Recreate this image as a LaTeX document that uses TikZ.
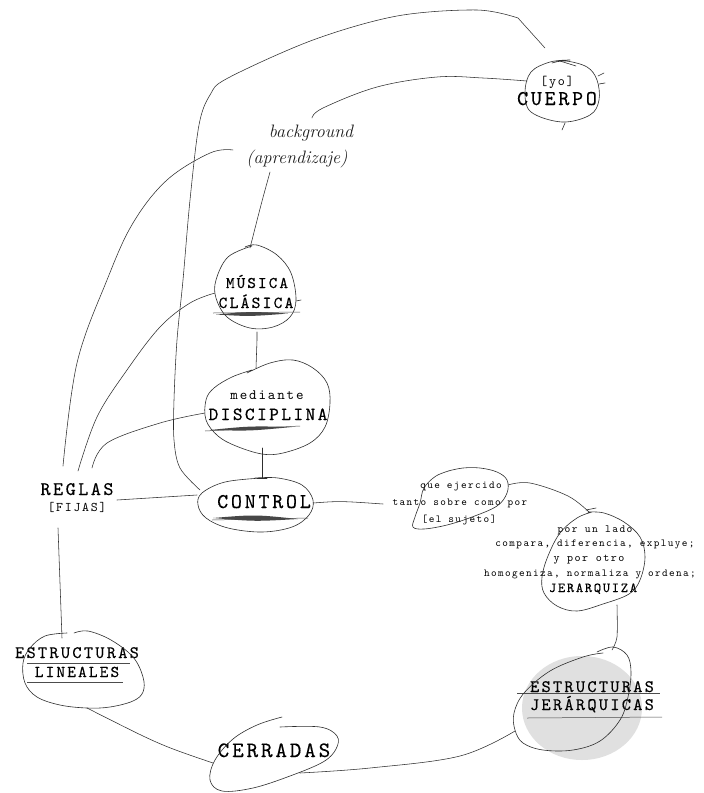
\documentclass[tikz,border=0pt]{standalone}
\usepackage{fontspec}
\newfontfamily\twfam{lmmono10-regular}[Extension=.otf, LetterSpace=13, FakeBold=0.3]
\newfontfamily\twlight{lmmono10-regular}[Extension=.otf, LetterSpace=13]
\newcommand\twf[1]{\twfam\fontsize{#1}{#1}\selectfont}
\newcommand\twl[1]{\twlight\fontsize{#1}{#1}\selectfont}
\begin{document}
\begin{tikzpicture}[x=1pt,y=-1pt,
  lbl/.style={anchor=base, inner sep=0pt, text=black},
  hand/.style={anchor=base, inner sep=0pt, text=black!88, font=\itshape\fontsize{18}{18}\selectfont},
  blob/.style={draw=black!82, line width=0.6pt, line cap=round, line join=round},
  link/.style={draw=black!82, line width=0.55pt, line cap=round, line join=round},
  rulel/.style={draw=black!70, line width=0.5pt},
  smudge/.style={fill=black!72, draw=none}]
\useasboundingbox (0,0) rectangle (704,793);
\fill[white] (0,0) rectangle (704,793);

% ---------- shaded disc behind the last concept ----------
\fill[black!12] (582,708) ellipse [x radius=60, y radius=52];

% ---------- labels ----------
\node[lbl, font=\twl{13.4}] (yo) at (557,85) {[yo]};
\node[lbl, font=\twf{21}] (cuerpo) at (557,105) {CUERPO};
\node[hand] (bg) at (311,137) {background};
\node[hand] (aprend) at (297,163) {(aprendizaje)};
\node[lbl, font=\twf{16.3}] (musica) at (257,288) {MÚSICA};
\node[lbl, font=\twf{16.8}] (clasica) at (256,308) {CLÁSICA};
\node[lbl, font=\twl{14.3}] (mediante) at (267,399) {mediante};
\node[lbl, font=\twf{18.5}] (disciplina) at (268,420) {DISCIPLINA};
\node[lbl, font=\twf{21}] (control) at (264,508) {CONTROL};
\node[lbl, font=\twf{19.2}] (reglas) at (77,495) {REGLAS};
\node[lbl, font=\twl{13.2}] (fijas) at (77,511) {[FIJAS]};
\node[lbl, font=\twf{17.5}] (estrlin) at (77,658) {ESTRUCTURAS};
\node[lbl, font=\twf{16.5}] (lineales) at (77,677) {LINEALES};
\node[lbl, font=\twf{17.5}] (estrjer) at (592,692) {ESTRUCTURAS};
\node[lbl, font=\twf{17.5}] (jerarq) at (592,710) {JERÁRQUICAS};
\node[lbl, font=\twf{22}] (cerradas) at (274,757) {CERRADAS};
\node[lbl, font=\twl{10.7}] (que1) at (461,488) {que ejercido};
\node[lbl, font=\twl{10.7}] (que2) at (460,505) {tanto sobre como por};
\node[lbl, font=\twl{10.7}] (que3) at (459,522) {[el sujeto]};
\node[lbl, font=\twl{11}] (jz1) at (595,532) {por un lado};
\node[lbl, font=\twl{10.7}] (jz2) at (595,546) {compara, diferencia, expluye;};
\node[lbl, font=\twl{11.5}] (jz3) at (589,561) {y por otro};
\node[lbl, font=\twl{10.7}] (jz4) at (590,576) {homogeniza, normaliza y ordena;};
\node[lbl, font=\twf{13.7}] (jz5) at (593,592) {JERARQUIZA};

% ---------- underlines ----------
\draw[rulel] (213,313) -- (300,312);
\fill[smudge] (216,314.5) .. controls (250,311.5) .. (288,313.5) .. controls (250,316.5) .. (216,314.5);
\draw[rulel] (205,431) -- (300,426);
\fill[smudge] (210,430) .. controls (250,426) .. (292,427) .. controls (250,431) .. (210,430);
\draw[rulel] (212,520) -- (308,518);
\fill[smudge] (213,518) .. controls (255,514.5) .. (298,519) .. controls (255,521.5) .. (213,518);
\draw[rulel] (27,663) -- (130,663);
\draw[rulel] (27,682) -- (123,682);
\draw[rulel] (517,693) -- (660,693);
\draw[rulel] (527,718) -- (662,717);

% ---------- hand-drawn rings ----------
% CUERPO
\draw[blob] plot[smooth, tension=0.6] coordinates {(570,60) (550,62) (531,72) (525,92) (531,112) (562,122) (590,115) (599,100) (597,80) (587,67) (566,61) (552,63)};
\draw[blob] (560,61) -- (576,66);
\draw[blob] (598,76) -- (604,73);
\draw[blob] (599,84) -- (605,83);
\draw[blob] (565,123) -- (562,130);
% MUSICA CLASICA
\draw[blob] plot[smooth, tension=0.6] coordinates {(252,246) (228,257) (216,280) (216,298) (227,317) (250,328) (273,327) (290,317) (296,300) (291,273) (277,255) (257,245) (245,247)};
\draw[blob] (296,301) -- (301,300);
% mediante DISCIPLINA
\draw[blob] plot[smooth, tension=0.6] coordinates {(247,373) (270,363) (293,360) (313,368) (327,383) (330,403) (325,427) (310,443) (283,453) (262,454) (236,446) (218,436) (206,420) (206,400) (214,388) (232,377) (252,370)};
% CONTROL
\draw[blob] plot[smooth, tension=0.6] coordinates {(262,478) (225,482) (202,493) (198,505) (206,518) (228,528) (262,532) (292,527) (309,515) (313,500) (302,485) (278,478) (255,478)};
% ESTRUCTURAS LINEALES
\draw[blob] plot[smooth, tension=0.6] coordinates {(74,633) (88,631) (111,640) (133,657) (143,677) (143,692) (133,701) (110,707) (87,708) (60,705) (37,697) (25,683) (23,663) (30,648) (45,636) (67,633)};
% ESTRUCTURAS JERARQUICAS
\draw[blob] plot[smooth, tension=0.6] coordinates {(597,652) (613,647) (627,655) (631,672) (628,697) (620,720) (600,741) (573,750) (543,750) (523,743) (515,730) (514,713) (524,693) (550,671) (583,657) (603,653)};
% CERRADAS
\draw[blob] plot[smooth, tension=0.6] coordinates {(282,717) (257,725) (233,739) (215,760) (210,780) (222,791) (253,788) (290,776) (323,762) (336,749) (337,736) (320,727) (280,727)};
% que ejercido ...
\draw[blob] plot[smooth, tension=0.6] coordinates {(452,470) (436,476) (424,488) (420,503) (415,517) (413,527) (424,529) (447,525) (472,517) (497,506) (507,493) (507,480) (497,472) (480,468) (463,468) (448,471)};
% por un lado ... JERARQUIZA
\draw[blob] plot[smooth, tension=0.6] coordinates {(592,512) (577,518) (560,533) (548,556) (542,577) (544,593) (557,606) (577,611) (603,604) (629,594) (640,580) (645,557) (640,537) (624,522) (604,513) (588,512)};
\draw[blob] (586,510) -- (596,508);

% ---------- anchor points on the rings ----------
\coordinate (cuerpo-top) at (545,48);
\coordinate (cuerpo-w) at (527,81);
\coordinate (bg-e) at (312,118);
\coordinate (bg-w) at (233,150);
\coordinate (bg-s) at (270,172);
\coordinate (mus-n) at (250,248);
\coordinate (mus-w) at (215,293);
\coordinate (mus-s) at (257,332);
\coordinate (dis-n) at (256,368);
\coordinate (dis-w) at (205,413);
\coordinate (dis-s) at (262,448);
\coordinate (ctl-n) at (262,478);
\coordinate (ctl-nw) at (200,490);
\coordinate (ctl-w) at (197,495);
\coordinate (ctl-e) at (313,503);
\coordinate (reg-n1) at (63,466);
\coordinate (reg-n2) at (78,471);
\coordinate (reg-n3) at (92,468);
\coordinate (reg-e) at (117,500);
\coordinate (reg-s) at (58,528);
\coordinate (lin-n) at (62,638);
\coordinate (lin-s) at (87,708);
\coordinate (cer-w) at (213,763);
\coordinate (cer-e) at (300,773);
\coordinate (jer-w) at (515,731);
\coordinate (jer-n) at (612,650);
\coordinate (jz-n) at (590,513);
\coordinate (jz-s) at (617,605);
\coordinate (que-w) at (383,504);
\coordinate (que-e) at (508,485);

% ---------- connectors ----------
% CONTROL up and over to CUERPO
\draw[link] plot[smooth, tension=0.55] coordinates {(ctl-nw) (180,468) (174,440) (174,400) (177,340) (183,280) (190,200) (199,125) (210,95) (228,78) (313,40) (397,16) (477,10) (518,18)} -- (cuerpo-top);
% background to CUERPO
\draw[link] plot[smooth, tension=0.6] coordinates {(bg-e) (323,108) (377,87) (437,77) (483,78) (cuerpo-w)};
% background to REGLAS
\draw[link] plot[smooth, tension=0.6] coordinates {(bg-w) (210,153) (167,180) (133,223) (107,280) (77,363) (reg-n1)};
% background to MUSICA
\draw[link] plot[smooth] coordinates {(bg-s) (261,205) (mus-n)};
% MUSICA to REGLAS
\draw[link] plot[smooth, tension=0.6] coordinates {(mus-w) (190,303) (160,327) (127,370) (97,417) (reg-n2)};
% DISCIPLINA to REGLAS
\draw[link] plot[smooth, tension=0.6] coordinates {(dis-w) (160,423) (107,443) (reg-n3)};
% the vertical chain
\draw[link] (mus-s) -- (257,340) -- (dis-n);
\draw[link] (dis-s) -- (ctl-n);
\draw[link] (257,478) -- (267,478);
% REGLAS to CONTROL, CONTROL onwards
\draw[link] (reg-e) -- (ctl-w);
\draw[link] (ctl-e) .. controls (340,501) .. (que-w);
\draw[link] plot[smooth, tension=0.6] coordinates {(que-e) (530,483) (568,496) (jz-n)};
\draw[link] plot[smooth] coordinates {(jz-s) (617,637) (jer-n)};
% REGLAS down to ESTRUCTURAS LINEALES
\draw[link] (reg-s) -- (lin-n);
% CERRADAS to both kinds of structures
\draw[link] (cer-w) .. controls (160,745) .. (lin-s);
\draw[link] plot[smooth, tension=0.6] coordinates {(cer-e) (370,768) (460,756) (jer-w)};
\end{tikzpicture}
\end{document}
